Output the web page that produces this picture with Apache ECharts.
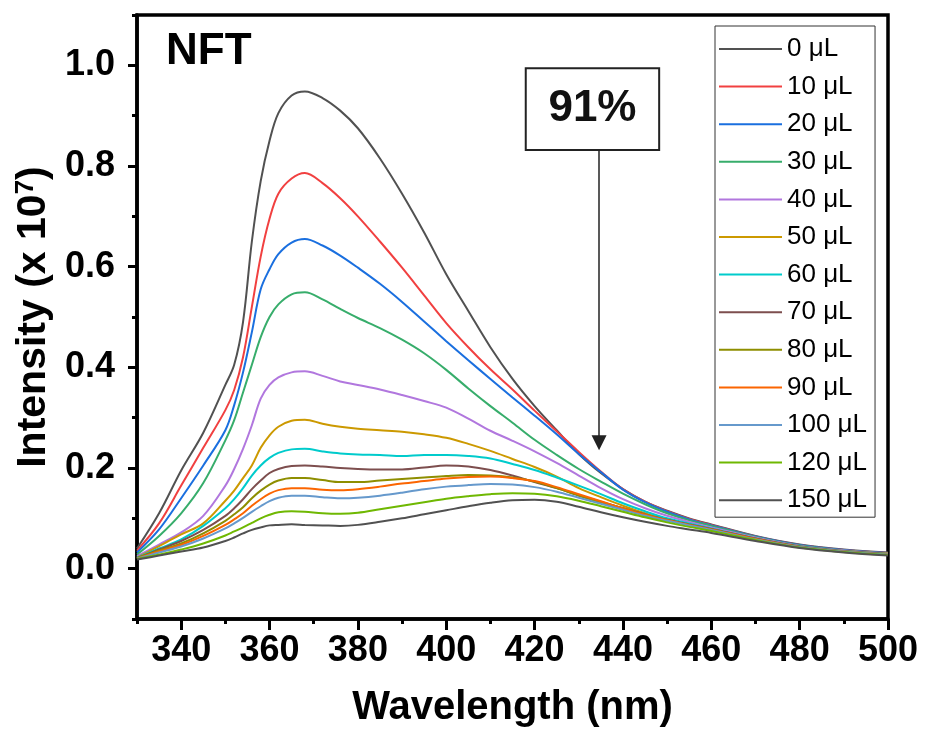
<!DOCTYPE html>
<html>
<head>
<meta charset="utf-8">
<script src="https://cdn.jsdelivr.net/npm/echarts@6/dist/echarts.min.js"></script>
<style>
  html, body { margin: 0; padding: 0; background: #fff; }
  #chart { width: 925px; height: 733px; }
</style>
</head>
<body>
<div id="chart"></div>
<script>
// Emission spectra of NFT on titration (intensity in units of 1e7)
const wavelengths = [330, 335, 340, 345, 350, 352, 354, 356, 358, 360, 362, 365, 368, 372, 376, 380, 385, 390, 395, 400,
                     405, 410, 415, 420, 425, 430, 435, 440, 445, 450, 455, 460, 470, 480, 490, 500];

const doseLabels = ['0 μL', '10 μL', '20 μL', '30 μL', '40 μL', '50 μL', '60 μL', '70 μL', '80 μL', '90 μL', '100 μL', '120 μL', '150 μL'];

const int0 =   [0.040, 0.110, 0.195, 0.270, 0.365, 0.405, 0.490, 0.650, 0.770, 0.850, 0.905, 0.940, 0.948, 0.935, 0.910, 0.875, 0.815, 0.745, 0.668, 0.585,
                0.512, 0.440, 0.377, 0.323, 0.275, 0.228, 0.190, 0.158, 0.133, 0.115, 0.100, 0.088, 0.065, 0.048, 0.038, 0.032];
const int10 =  [0.036, 0.090, 0.165, 0.240, 0.315, 0.355, 0.420, 0.520, 0.620, 0.695, 0.745, 0.775, 0.786, 0.766, 0.736, 0.700, 0.650, 0.598, 0.543, 0.488,
                0.440, 0.396, 0.356, 0.314, 0.273, 0.232, 0.193, 0.158, 0.133, 0.114, 0.099, 0.087, 0.064, 0.047, 0.037, 0.031];
const int20 =  [0.032, 0.078, 0.140, 0.205, 0.275, 0.325, 0.390, 0.470, 0.555, 0.595, 0.625, 0.648, 0.655, 0.642, 0.622, 0.598, 0.566, 0.530, 0.491, 0.452,
                0.414, 0.377, 0.340, 0.304, 0.267, 0.228, 0.192, 0.157, 0.132, 0.113, 0.098, 0.086, 0.064, 0.047, 0.037, 0.031];
const int30 =  [0.028, 0.065, 0.110, 0.170, 0.255, 0.295, 0.350, 0.405, 0.460, 0.500, 0.525, 0.545, 0.549, 0.535, 0.516, 0.498, 0.478, 0.455, 0.428, 0.395,
                0.358, 0.323, 0.290, 0.256, 0.226, 0.198, 0.173, 0.149, 0.128, 0.110, 0.096, 0.085, 0.063, 0.046, 0.036, 0.030];
const int40 =  [0.025, 0.048, 0.072, 0.105, 0.165, 0.198, 0.238, 0.285, 0.338, 0.365, 0.380, 0.390, 0.392, 0.383, 0.372, 0.365, 0.356, 0.345, 0.333, 0.320,
                0.298, 0.274, 0.254, 0.233, 0.210, 0.185, 0.160, 0.138, 0.120, 0.105, 0.093, 0.082, 0.062, 0.045, 0.036, 0.030];
const int50 =  [0.022, 0.045, 0.068, 0.090, 0.135, 0.155, 0.180, 0.205, 0.240, 0.265, 0.282, 0.294, 0.296, 0.288, 0.282, 0.278, 0.275, 0.272, 0.267, 0.260,
                0.248, 0.234, 0.218, 0.202, 0.183, 0.160, 0.142, 0.125, 0.110, 0.098, 0.088, 0.078, 0.060, 0.044, 0.035, 0.030];
const int60 =  [0.022, 0.040, 0.058, 0.085, 0.120, 0.138, 0.160, 0.185, 0.205, 0.220, 0.230, 0.237, 0.238, 0.233, 0.229, 0.227, 0.226, 0.224, 0.226, 0.226,
                0.224, 0.219, 0.208, 0.196, 0.181, 0.165, 0.148, 0.130, 0.114, 0.100, 0.090, 0.080, 0.060, 0.044, 0.035, 0.029];
const int70 =  [0.021, 0.038, 0.055, 0.077, 0.105, 0.120, 0.138, 0.158, 0.175, 0.190, 0.198, 0.204, 0.205, 0.203, 0.200, 0.198, 0.197, 0.197, 0.201, 0.205,
                0.203, 0.196, 0.185, 0.172, 0.160, 0.146, 0.133, 0.120, 0.108, 0.097, 0.088, 0.079, 0.060, 0.044, 0.035, 0.029];
const int80 =  [0.021, 0.036, 0.050, 0.070, 0.095, 0.108, 0.122, 0.140, 0.155, 0.167, 0.175, 0.180, 0.180, 0.176, 0.172, 0.172, 0.175, 0.178, 0.181, 0.184,
                0.186, 0.185, 0.181, 0.173, 0.160, 0.145, 0.132, 0.120, 0.107, 0.096, 0.087, 0.078, 0.059, 0.043, 0.034, 0.028];
const int90 =  [0.020, 0.034, 0.047, 0.065, 0.087, 0.098, 0.110, 0.125, 0.138, 0.149, 0.156, 0.160, 0.160, 0.157, 0.156, 0.158, 0.163, 0.169, 0.174, 0.179,
                0.182, 0.183, 0.180, 0.174, 0.162, 0.148, 0.134, 0.120, 0.107, 0.096, 0.087, 0.078, 0.059, 0.043, 0.034, 0.028];
const int100 = [0.020, 0.032, 0.044, 0.060, 0.080, 0.090, 0.101, 0.113, 0.124, 0.134, 0.141, 0.145, 0.145, 0.142, 0.140, 0.141, 0.145, 0.151, 0.158, 0.163,
                0.166, 0.168, 0.167, 0.162, 0.153, 0.141, 0.129, 0.117, 0.105, 0.095, 0.086, 0.077, 0.058, 0.043, 0.034, 0.028];
const int120 = [0.019, 0.028, 0.038, 0.050, 0.066, 0.074, 0.082, 0.091, 0.100, 0.107, 0.112, 0.114, 0.113, 0.110, 0.109, 0.111, 0.118, 0.125, 0.132, 0.139,
                0.144, 0.148, 0.150, 0.149, 0.144, 0.135, 0.124, 0.113, 0.102, 0.092, 0.083, 0.075, 0.057, 0.042, 0.033, 0.027];
const int150 = [0.018, 0.026, 0.034, 0.042, 0.055, 0.062, 0.070, 0.077, 0.082, 0.086, 0.087, 0.088, 0.087, 0.086, 0.085, 0.087, 0.093, 0.100, 0.108, 0.116,
                0.124, 0.131, 0.136, 0.137, 0.133, 0.123, 0.112, 0.102, 0.093, 0.085, 0.078, 0.071, 0.055, 0.041, 0.032, 0.026];

const intensities = [int0, int10, int20, int30, int40, int50, int60, int70, int80, int90, int100, int120, int150];

const lineColors = ['#515151', '#F14040', '#1A6FDF', '#37AD6B', '#B177DE', '#CC9900', '#00CBCC',
                    '#7D4E4E', '#8E8E00', '#FB6501', '#6699CC', '#6FB802', '#515151'];

// Labelled (long) ticks; the short ticks come from the 10 nm / 0.1 interval
const xMajorTicks = [340, 360, 380, 400, 420, 440, 460, 480, 500];
const yMajorTicks = [0, 0.2, 0.4, 0.6, 0.8, 1.0];

// Quenching annotation
const quenchText = '91%';
const quenchBox = [[418.0, 0.994], [448.2, 0.832]];
const quenchArrow = [[434.6, 0.832], [434.6, 0.250]];

const FONT = "'Liberation Sans', Arial, Helvetica, sans-serif";

const chart = echarts.init(document.getElementById('chart'), null, { renderer: 'canvas' });

const series = intensities.map((vals, i) => {
  const s = {
    name: doseLabels[i],
    type: 'line',
    xAxisIndex: 0,
    yAxisIndex: 0,
    data: wavelengths.map((w, k) => [w, vals[k]]),
    showSymbol: false,
    symbol: 'none',
    smooth: 0.35,
    lineStyle: { color: lineColors[i], width: 2 },
    itemStyle: { color: lineColors[i] },
    emphasis: { disabled: true },
    z: 2 + i
  };
  if (i === 0) {
    s.markArea = {
      silent: true,
      itemStyle: { color: '#ffffff', borderColor: '#222', borderWidth: 2 },
      label: {
        show: true, position: 'inside', formatter: quenchText,
        fontSize: 44, fontWeight: 'bold', color: '#111', fontFamily: FONT
      },
      data: [[{ coord: quenchBox[0] }, { coord: quenchBox[1] }]]
    };
    s.markLine = {
      silent: true,
      symbol: ['none', 'triangle'],
      symbolSize: 15,
      label: { show: false },
      lineStyle: { color: '#222', width: 1.5, type: 'solid' },
      data: [[{ coord: quenchArrow[0] }, { coord: quenchArrow[1] }]]
    };
  }
  return s;
});

const option = {
  animation: false,
  backgroundColor: '#ffffff',
  title: {
    text: 'NFT',
    left: 166, top: 30, padding: 0,
    textStyle: { fontSize: 44, fontWeight: 'bold', color: '#000', fontFamily: FONT }
  },
  legend: {
    orient: 'vertical',
    left: 715, top: 26,
    padding: [10, 8, 4, 4],
    icon: 'rect',
    itemWidth: 63, itemHeight: 2, itemGap: 11.6,
    borderColor: '#333', borderWidth: 1, backgroundColor: '#fff',
    textStyle: { fontSize: 26, color: '#000', fontFamily: FONT },
    data: doseLabels
  },
  grid: {
    left: 137, right: 37, top: 15, bottom: 112.5,
    show: true, borderColor: '#000', borderWidth: 3.5, backgroundColor: 'transparent'
  },
  xAxis: [
    {
      type: 'value', min: 330, max: 500, interval: 10,
      position: 'bottom',
      name: 'Wavelength (nm)', nameLocation: 'middle', nameGap: 69,
      nameTextStyle: { fontSize: 40, fontWeight: 'bold', color: '#000', fontFamily: FONT },
      axisLine: { show: true, onZero: false, lineStyle: { color: '#000', width: 3.5 } },
      axisTick: { show: true, inside: false, length: 5, lineStyle: { color: '#000', width: 3 } },
      axisLabel: {
        margin: 14, fontSize: 36, fontWeight: 'bold', color: '#000', fontFamily: FONT,
        formatter: v => (xMajorTicks.indexOf(Math.round(v)) >= 0 ? String(Math.round(v)) : '')
      },
      splitLine: { show: false }
    },
    {
      type: 'value', min: 330, max: 500,
      position: 'bottom',
      axisLine: { show: false, onZero: false },
      axisTick: { show: true, inside: false, length: 11, customValues: xMajorTicks, lineStyle: { color: '#000', width: 3 } },
      axisLabel: { show: false },
      splitLine: { show: false }
    }
  ],
  yAxis: [
    {
      type: 'value', min: -0.1, max: 1.1, interval: 0.1,
      position: 'left',
      name: 'Intensity (x 10{sup|7})', nameLocation: 'middle', nameGap: 66, nameRotate: 90,
      nameTextStyle: {
        fontSize: 41, fontWeight: 'bold', color: '#000', fontFamily: FONT,
        rich: { sup: { fontSize: 26, fontWeight: 'bold', color: '#000', fontFamily: FONT, verticalAlign: 'top', lineHeight: 42 } }
      },
      axisLine: { show: true, onZero: false, lineStyle: { color: '#000', width: 3.5 } },
      axisTick: { show: true, inside: false, length: 5, lineStyle: { color: '#000', width: 3 } },
      axisLabel: {
        margin: 22, fontSize: 36, fontWeight: 'bold', color: '#000', fontFamily: FONT,
        formatter: v => {
          const t = Math.round(v * 10);
          return (t >= 0 && t <= 10 && t % 2 === 0) ? (t / 10).toFixed(1) : '';
        }
      },
      splitLine: { show: false }
    },
    {
      type: 'value', min: -0.1, max: 1.1,
      position: 'left',
      axisLine: { show: false, onZero: false },
      axisTick: { show: true, inside: false, length: 9, customValues: yMajorTicks, lineStyle: { color: '#000', width: 3 } },
      axisLabel: { show: false },
      splitLine: { show: false }
    }
  ],
  series: series
};

chart.setOption(option);
</script>
</body>
</html>
